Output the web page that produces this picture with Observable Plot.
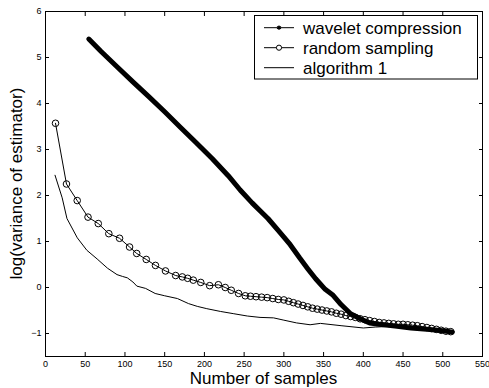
<!DOCTYPE html>
<html>
<head>
<meta charset="utf-8">
<script src="https://cdn.jsdelivr.net/npm/d3@7"></script>
<script src="https://cdn.jsdelivr.net/npm/@observablehq/plot@0.6"></script>
<style>
  html, body { margin: 0; padding: 0; background: #fff; }
  #chart { width: 489px; height: 388px; }
</style>
</head>
<body>
<div id="chart"></div>
<script>
// ---- data ----
const seriesNames = ["wavelet compression", "random sampling", "algorithm 1"];

const waveletX = [54.5, 70, 90, 110, 130, 150, 170, 190, 210, 230, 245, 260, 271, 280, 295, 308, 320, 330, 340, 352, 362, 372, 384, 396, 408, 420, 440, 460, 480, 500, 512];
const waveletY = [5.40, 5.13, 4.80, 4.47, 4.15, 3.82, 3.48, 3.14, 2.80, 2.43, 2.12, 1.84, 1.65, 1.50, 1.20, 0.93, 0.64, 0.41, 0.19, -0.04, -0.17, -0.37, -0.57, -0.68, -0.77, -0.80, -0.84, -0.88, -0.91, -0.94, -0.97];

const randomX = [12.6, 26.4, 39.9, 53.5, 66.4, 79.7, 93.2, 105.8, 114.8, 126.8, 138.4, 151, 163.8, 172.2, 178.9, 186, 195.4, 206.6, 217.6, 226.2, 233.8, 243, 251.4,
  258, 265, 272, 279, 286, 293, 300, 306, 312, 318, 324, 330, 336, 342, 348, 354, 360, 366, 372, 378, 384, 390, 396, 402, 408, 414, 420, 426, 432, 438, 444, 450, 456, 462, 468, 474, 480, 486, 492, 498, 504, 510];
const randomY = [3.57, 2.25, 1.89, 1.53, 1.39, 1.17, 1.07, 0.88, 0.74, 0.61, 0.48, 0.36, 0.26, 0.23, 0.20, 0.16, 0.11, 0.04, 0.06, 0.00, -0.06, -0.13, -0.18,
  -0.19, -0.20, -0.21, -0.22, -0.24, -0.26, -0.27, -0.30, -0.33, -0.36, -0.39, -0.42, -0.45, -0.47, -0.49, -0.51, -0.53, -0.56, -0.58, -0.61, -0.63, -0.65, -0.68, -0.70, -0.72, -0.74, -0.76, -0.77, -0.78, -0.79, -0.80, -0.80, -0.81, -0.82, -0.83, -0.85, -0.87, -0.89, -0.91, -0.93, -0.95, -0.96];

const algoX = [12, 21, 27, 40, 52, 65, 78, 90, 97, 103, 110, 115, 126, 138, 150, 166, 180, 191, 203, 220, 237, 254, 270, 287, 300, 316, 333, 346, 372, 400, 415, 440, 470, 500, 512];
const algoY = [2.44, 1.95, 1.50, 1.08, 0.81, 0.62, 0.42, 0.28, 0.24, 0.21, 0.12, 0.03, -0.02, -0.13, -0.18, -0.24, -0.35, -0.41, -0.46, -0.52, -0.57, -0.62, -0.65, -0.66, -0.71, -0.77, -0.81, -0.78, -0.83, -0.88, -0.86, -0.84, -0.88, -0.93, -0.97];

const xTicks = [0, 50, 100, 150, 200, 250, 300, 350, 400, 450, 500, 550];
const yTicks = [-1, 0, 1, 2, 3, 4, 5, 6];
const xLabel = "Number of samples";
const yLabel = "log(variance of estimator)";

// ---- build tables ----
const wavelet = waveletX.map((x, i) => ({x, y: waveletY[i]}));
const random = randomX.map((x, i) => ({x, y: randomY[i]}));
const algo = algoX.map((x, i) => ({x, y: algoY[i]}));

const W = 489, H = 388;
const FONT = "'Liberation Sans', Arial, Helvetica, sans-serif";

const plot = Plot.plot({
  width: W,
  height: H,
  marginLeft: 45,
  marginRight: 7,
  marginTop: 11,
  marginBottom: 32,
  style: {fontFamily: FONT, fontSize: "9px", background: "#fff", color: "#000", overflow: "visible"},
  x: {domain: [0, 550], ticks: xTicks},
  y: {domain: [-1.5, 6], ticks: yTicks},
  marks: [
    Plot.frame({stroke: "#000", strokeWidth: 1}),
    Plot.axisX({anchor: "bottom", ticks: xTicks, tickSize: 0, tickPadding: 4, label: null}),
    Plot.axisY({anchor: "left", ticks: yTicks, tickSize: 0, tickPadding: 4, label: null}),
    Plot.axisX({anchor: "bottom", ticks: xTicks, tickSize: -4, tickFormat: () => "", label: null}),
    Plot.axisX({anchor: "top", ticks: xTicks, tickSize: -4, tickFormat: () => "", label: null}),
    Plot.axisY({anchor: "left", ticks: yTicks, tickSize: -4, tickFormat: () => "", label: null}),
    Plot.axisY({anchor: "right", ticks: yTicks, tickSize: -4, tickFormat: () => "", label: null}),
    Plot.line(algo, {x: "x", y: "y", stroke: "#000", strokeWidth: 1}),
    Plot.line(random, {x: "x", y: "y", stroke: "#000", strokeWidth: 1}),
    Plot.dot(random, {x: "x", y: "y", r: 3.3, stroke: "#000", strokeWidth: 1, fill: "none"}),
    Plot.line(wavelet, {x: "x", y: "y", stroke: "#000", strokeWidth: 5, strokeLinejoin: "round", strokeLinecap: "round"})
  ]
});

const svg = d3.select(plot);

svg.append("text")
  .attr("x", (45 + 482) / 2).attr("y", 384)
  .attr("text-anchor", "middle")
  .style("font-family", FONT).style("font-size", "17px").attr("fill", "#000")
  .text(xLabel);
svg.append("text")
  .attr("transform", `translate(22,${(11 + 356) / 2}) rotate(-90)`)
  .attr("text-anchor", "middle")
  .style("font-family", FONT).style("font-size", "17px").attr("fill", "#000")
  .text(yLabel);

const lg = svg.append("g").attr("text-anchor", "start");
lg.append("rect").attr("x", 254.5).attr("y", 15.5).attr("width", 223).attr("height", 63.5)
  .attr("fill", "#fff").attr("stroke", "#000").attr("stroke-width", 1);
const rows = [27.7, 47.7, 67.7];
seriesNames.forEach((name, i) => {
  const yy = rows[i];
  lg.append("line").attr("x1", 264).attr("x2", 294).attr("y1", yy).attr("y2", yy)
    .attr("stroke", "#000").attr("stroke-width", 1);
  if (i === 0) {
    lg.append("path").attr("d", d3.symbol(d3.symbolAsterisk, 14)())
      .attr("transform", `translate(279,${yy})`).attr("stroke", "#000").attr("stroke-width", 1.2).attr("fill", "none");
  } else if (i === 1) {
    lg.append("circle").attr("cx", 279).attr("cy", yy).attr("r", 2.6)
      .attr("stroke", "#000").attr("fill", "#fff").attr("stroke-width", 1);
  }
  lg.append("text").attr("x", 303).attr("y", yy + 6)
    .attr("text-anchor", "start")
    .style("font-family", FONT).style("font-size", "17px").attr("fill", "#000")
    .text(name);
});

document.getElementById("chart").appendChild(plot);
</script>
</body>
</html>
